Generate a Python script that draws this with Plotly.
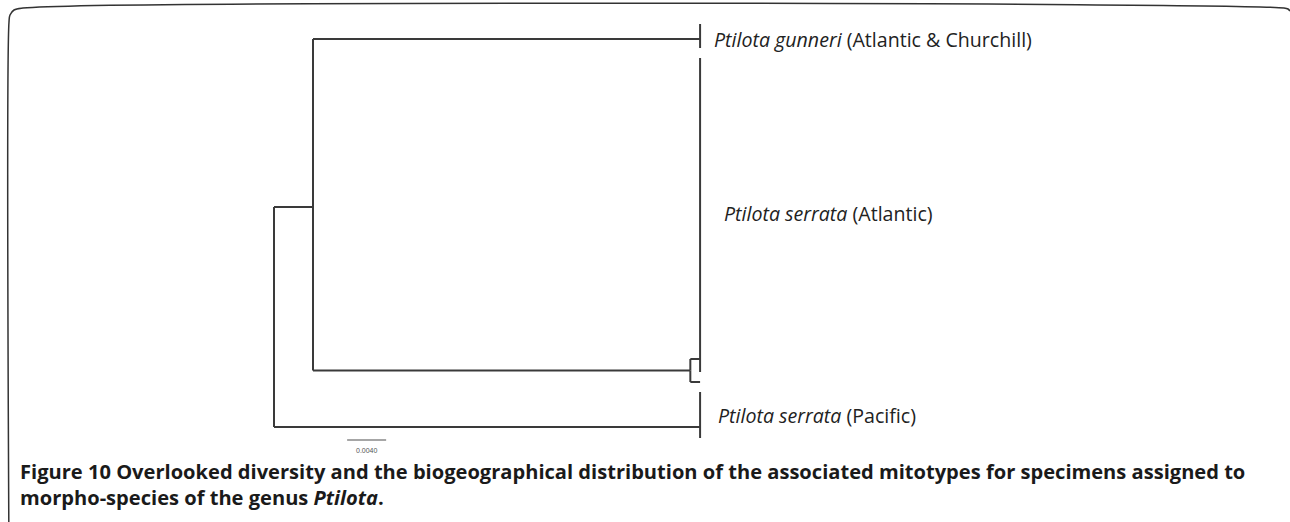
import plotly.graph_objects as go

# ---- tree data ----
# node, parent, branch length (substitutions/site)
node_names = ["n1", "gunneri", "n2", "atl_a", "atl_b", "pacific"]
node_parents = ["root", "n1", "n1", "n2", "n2", "root"]
branch_lengths = [0.0040, 0.0397, 0.0387, 0.0010, 0.0010, 0.0437]
# vertical tip positions (row positions, top = small)
tip_rows = {"gunneri": 39, "atl_a": 359, "atl_b": 382, "pacific": 427}
# collapsed clade spans drawn at tip depth: (tip, top row, bottom row)
clade_tips = ["gunneri", "atl_a", "pacific"]
clade_top = [24, 58, 392]
clade_bottom = [48, 372, 438]

tip_labels_italic = ["Ptilota gunneri", "Ptilota serrata", "Ptilota serrata"]
tip_labels_region = ["(Atlantic &amp; Churchill)", "(Atlantic)", "(Pacific)"]
label_rows = [39, 213, 415]
label_shift = [12, 22, 16]

scale_value = 0.0040
scale_label = "0.0040"

caption_bold = "Figure 10"
caption_line1 = "Overlooked diversity and the biogeographical distribution of the associated mitotypes for specimens assigned to"
caption_line2 = "morpho-species of the genus"
caption_genus = "Ptilota"

# ---- compute depths and rows ----
depth = {"root": 0.0}
for n, p, b in zip(node_names, node_parents, branch_lengths):
    depth[n] = depth[p] + b
children = {}
for n, p in zip(node_names, node_parents):
    children.setdefault(p, []).append(n)
row = dict(tip_rows)
def get_row(n):
    if n in row:
        return row[n]
    r = sum(get_row(c) for c in children[n]) / len(children[n])
    row[n] = r
    return r
get_row("root")
row["n1"] = 207
row["root"] = 207

xs, ys = [], []
for n, p in zip(node_names, node_parents):
    xs += [depth[p], depth[p], None]
    ys += [row[p], row[n], None]
    xs += [depth[p], depth[n], None]
    ys += [row[n], row[n], None]
for t, a, b in zip(clade_tips, clade_top, clade_bottom):
    xs += [depth[t], depth[t], None]
    ys += [a, b, None]

W, H = 1290, 522
px_per_unit = 9750.0
root_px = 274.0
x_range = [-root_px / px_per_unit, (W - root_px) / px_per_unit]

line_col = "#3a3a3a"
fig = go.Figure()
fig.add_trace(go.Scatter(x=xs, y=ys, mode="lines",
                         line=dict(color=line_col, width=2), hoverinfo="skip",
                         showlegend=False))

# scale bar
sb_x0 = 0.0075
sb_y = 440
fig.add_trace(go.Scatter(x=[sb_x0, sb_x0 + scale_value], y=[sb_y, sb_y], mode="lines",
                         line=dict(color="#888888", width=1.5), hoverinfo="skip",
                         showlegend=False))

# rounded border
bx = [9, 9, 10, 14, 23, 1284, 1288, 1290]
by = [560, 22, 15, 10, 8, 8, 9, 11]
fig.add_trace(go.Scatter(x=[(v - root_px) / px_per_unit for v in bx], y=by,
                         mode="lines", line=dict(color="#333333", width=1.5, shape="spline"),
                         hoverinfo="skip", showlegend=False))

font_family = "Open Sans"
annotations = []
tip_x = depth["pacific"]
for it, rg, r, sh in zip(tip_labels_italic, tip_labels_region, label_rows, label_shift):
    annotations.append(dict(x=tip_x, y=r, xref="x", yref="y", xanchor="left", yanchor="middle",
                            xshift=sh, showarrow=False,
                            text=f"<i>{it}</i> {rg}",
                            font=dict(family=font_family, size=19.6, color="#222222")))
annotations.append(dict(x=sb_x0 + scale_value / 2, y=sb_y + 10, xref="x", yref="y",
                        xanchor="center", yanchor="middle", showarrow=False,
                        text=scale_label, font=dict(family="Arial", size=7, color="#555555")))
annotations.append(dict(x=18 / W, y=1 - 471 / H, xref="paper", yref="paper", xanchor="left",
                        yanchor="middle", showarrow=False,
                        text=f"<b>{caption_bold} {caption_line1}</b>",
                        font=dict(family=font_family, size=20.1, color="#1a1a1a")))
annotations.append(dict(x=18 / W, y=1 - 497 / H, xref="paper", yref="paper", xanchor="left",
                        yanchor="middle", showarrow=False,
                        text=f"<b>{caption_line2} <i>{caption_genus}</i>.</b>",
                        font=dict(family=font_family, size=20.1, color="#1a1a1a")))

fig.update_layout(
    width=W, height=H,
    margin=dict(l=0, r=0, t=0, b=0),
    paper_bgcolor="white", plot_bgcolor="white",
    xaxis=dict(range=x_range, visible=False, fixedrange=True),
    yaxis=dict(range=[H, 0], visible=False, fixedrange=True),
    annotations=annotations,
    showlegend=False,
)

fig.write_html("out.html", config={"displayModeBar": False},
               post_script="document.body.style.margin='0';document.body.style.overflow='hidden';")
